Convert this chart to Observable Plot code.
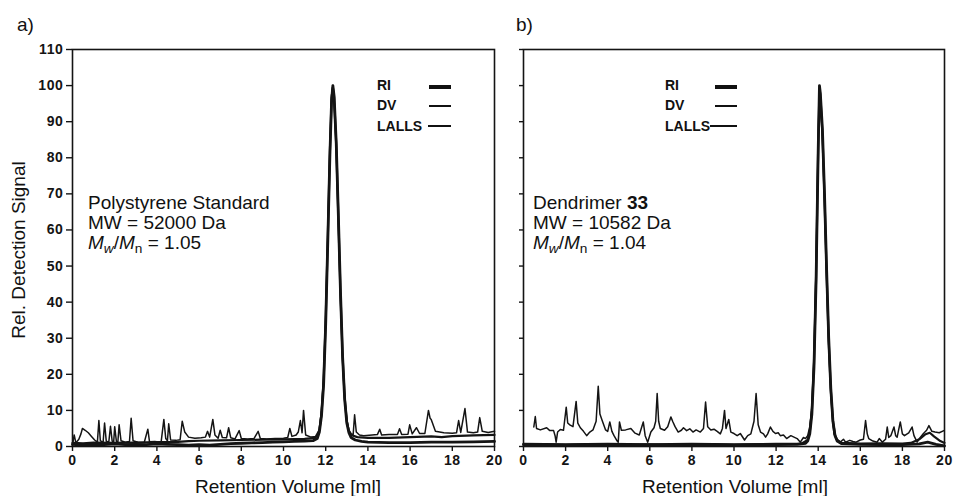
<!DOCTYPE html>
<html><head><meta charset="utf-8">
<script src="https://cdn.jsdelivr.net/npm/d3@7"></script>
<script src="https://cdn.jsdelivr.net/npm/@observablehq/plot@0.6"></script>
<style>
body{margin:0;background:#fff;font-family:"Liberation Sans",Arial,Helvetica,sans-serif;color:#111}
#wrap{position:relative;width:954px;height:496px;overflow:hidden}
.abs{position:absolute;white-space:nowrap;line-height:1;color:#111}
.big{font-size:19px}
.leg{font-size:14px;font-weight:bold}
.sw{position:absolute;background:#111}
.sub{font-size:0.72em;position:relative;top:0.28em}
svg{position:absolute;top:0}
</style></head><body><div id="wrap"></div>
<script>
// ---- tick values ----
const xTicks = [0,2,4,6,8,10,12,14,16,18,20];
const yTicks = [0,10,20,30,40,50,60,70,80,90,100,110];

// ---- panel a) Polystyrene standard: [retention volume, signal] ----
const a_RI = [[0,0.6],[0.5,0.4],[1,0.6],[1.5,0.5],[2,0.7],[2.5,0.5],[3,0.6],[3.5,0.5],[4,0.7],[4.5,0.6],[5,0.5],[5.5,0.4],[6,0.5],[6.5,0.4],[7,0.6],[7.5,0.8],[8,0.9],[8.5,1],[9,1.1],[9.5,1.2],[10,1.3],[10.5,1.4],[11,1.5],[11.4,1.6],[11.6,2.2],[11.7,4],[11.8,8.5],[11.9,17],[12.0,34],[12.1,57],[12.2,81],[12.28,96],[12.34,100],[12.4,97],[12.5,84],[12.6,64],[12.7,43],[12.8,25],[12.9,13],[13.0,6.5],[13.1,3.8],[13.2,2.5],[13.4,1.8],[13.7,1.4],[14,1.2],[15,1.1],[16,1.1],[17,1.2],[18,1.2],[19,1.3],[20,1.4]];
const a_DV = [[0,1],[0.5,0.9],[1,1.1],[2,1],[3,1.1],[4,1.2],[5,1.3],[5.5,1.5],[6,1.6],[7,1.7],[8,1.8],[9,1.9],[10,2],[11,2.1],[11.5,2.4],[11.7,4.5],[11.8,9],[11.9,18],[12.0,35],[12.1,58],[12.2,82],[12.28,96.5],[12.34,99.5],[12.4,96.5],[12.5,83.5],[12.6,63.5],[12.7,42.5],[12.8,25],[12.9,13.5],[13.0,7],[13.1,4.2],[13.2,3.2],[13.5,2.6],[14,2.4],[15,2.4],[16,2.6],[17,2.8],[17.5,2.6],[18,2.9],[19,3.1],[20,3.2]];
const a_LALLS = [[0,0.4],[0.08,3.2],[0.16,1],[0.3,2],[0.4,3.5],[0.47,5],[0.6,4.5],[0.75,3.8],[0.9,2.8],[1.05,1.8],[1.18,1.2],[1.25,7.2],[1.32,1.6],[1.45,1.1],[1.52,6.5],[1.6,1.5],[1.72,1.2],[1.8,5.6],[1.88,1.5],[1.95,1.1],[2.0,5.5],[2.08,1.4],[2.15,1.2],[2.21,6],[2.3,1.6],[2.5,1.2],[2.7,1.4],[2.78,7.8],[2.87,1.6],[3.1,1.2],[3.4,1.1],[3.57,4.8],[3.65,1.3],[3.9,1.4],[4.2,1.2],[4.33,7.5],[4.42,2.2],[4.5,1.6],[4.56,6.3],[4.65,1.8],[4.9,1.7],[5.1,1.9],[5.2,7],[5.32,4],[5.5,2.6],[5.8,2.3],[6.1,2.4],[6.3,2.6],[6.4,4.2],[6.5,2.6],[6.65,7.5],[6.75,3.2],[6.9,2.3],[7.0,4.5],[7.1,2.5],[7.3,2.4],[7.4,5.2],[7.5,2.4],[7.7,2.1],[7.9,4.4],[8.0,2.2],[8.3,2.1],[8.6,2.2],[8.8,4.2],[8.9,2.2],[9.2,2.1],[9.6,2.2],[10.0,2.3],[10.2,2.5],[10.3,5],[10.4,2.8],[10.6,3.2],[10.7,4],[10.8,7.2],[10.88,3.8],[10.95,10],[11.05,3.2],[11.3,2.6],[11.6,2.8],[11.7,5],[11.8,10],[11.9,19],[12.0,36],[12.1,59],[12.2,83],[12.28,97.5],[12.34,100],[12.4,96],[12.5,83],[12.6,62],[12.7,41],[12.8,24],[12.9,13],[13.0,7.5],[13.1,4.5],[13.2,3.6],[13.3,3.2],[13.37,8.8],[13.45,4],[13.6,3.2],[13.8,3],[14.2,3.2],[14.45,3.3],[14.56,4.8],[14.65,3.2],[15.0,3.3],[15.4,3.3],[15.5,4.9],[15.6,3.3],[15.9,3.4],[15.98,6],[16.1,3.5],[16.3,5.2],[16.45,3.6],[16.7,3.6],[16.87,10],[16.95,7.8],[17.0,7.5],[17.2,4.2],[17.6,3.8],[18.0,3.7],[18.2,3.8],[18.3,7.2],[18.4,3.9],[18.6,10.5],[18.72,4],[19.0,3.8],[19.2,4],[19.3,8],[19.42,4.2],[19.7,3.9],[20,4.2]];

// ---- panel b) Dendrimer 33 ----
const b_RI = [[0,0.5],[1,0.5],[2,0.4],[3,0.5],[4,0.5],[5,0.4],[6,0.5],[7,0.4],[8,0.5],[9,0.5],[10,0.4],[11,0.5],[12,0.5],[13,0.6],[13.4,0.9],[13.5,1.5],[13.6,3.5],[13.7,9],[13.8,22],[13.9,46],[14.0,82],[14.06,100],[14.1,98],[14.2,88],[14.3,70],[14.4,49],[14.5,30],[14.6,16],[14.7,7],[14.8,3],[14.9,1.5],[15.1,0.8],[16,0.6],[17,0.5],[18,0.5],[18.8,0.7],[19.2,1.2],[19.6,0.6],[20,0.2]];
const b_DV = [[0,0.7],[2,0.6],[4,0.7],[6,0.6],[8,0.7],[10,0.6],[12,0.7],[13.2,0.8],[13.5,1.8],[13.6,4],[13.7,10],[13.8,23],[13.9,47],[14.0,83],[14.06,99],[14.1,97.5],[14.2,87],[14.3,69],[14.4,48],[14.5,29],[14.6,15.5],[14.7,7],[14.8,3.2],[14.9,1.8],[15.1,1],[16,0.8],[17,0.9],[18,0.8],[18.4,1],[18.8,2],[19.1,3.4],[19.3,3.8],[19.5,2.8],[19.8,1.5],[20,1]];
const b_LALLS = [[0.49,5.4],[0.56,8.3],[0.62,5],[0.8,4.6],[1.1,5.2],[1.25,4.4],[1.43,4.4],[1.5,3],[1.55,1.2],[1.62,4],[1.75,4.7],[1.9,4.5],[2.03,10.9],[2.1,6.5],[2.2,6],[2.35,5.5],[2.5,12.5],[2.58,6.5],[2.7,5.2],[2.85,4.2],[3.0,3],[3.15,4],[3.3,4.6],[3.45,7],[3.55,16.7],[3.63,9],[3.75,7],[3.9,4.6],[4.0,4.2],[4.1,6.8],[4.2,4.2],[4.3,3],[4.45,1.5],[4.5,1.2],[4.56,6.8],[4.65,4.5],[4.85,4.6],[5.1,5],[5.3,3.7],[5.5,3.2],[5.69,6.8],[5.78,3],[5.9,1.2],[6.05,4],[6.2,5.2],[6.28,7],[6.35,14.7],[6.42,7],[6.5,5],[6.7,4.5],[6.85,5.5],[7.0,8.2],[7.1,6.8],[7.2,5.5],[7.35,4],[7.5,4.5],[7.6,5.2],[7.75,4.4],[7.9,4.9],[8.05,4],[8.2,4.6],[8.4,4],[8.55,5],[8.65,12.3],[8.75,5.5],[8.9,4.6],[9.05,4.8],[9.2,4.2],[9.35,3.5],[9.45,5],[9.55,10],[9.62,5],[9.75,7.5],[9.85,4],[10.0,3.6],[10.15,3],[10.3,3.6],[10.5,1.8],[10.65,3],[10.8,3.5],[10.95,7],[11.05,14.7],[11.15,6],[11.26,4],[11.4,3.5],[11.5,2.6],[11.6,3.5],[11.73,5.4],[11.85,4.2],[11.97,3.6],[12.1,3.8],[12.2,3],[12.35,3.2],[12.5,2.2],[12.7,3],[12.85,2.6],[13.0,2.2],[13.15,1.2],[13.3,2.5],[13.4,2.2],[13.5,3],[13.6,5.5],[13.7,11],[13.8,25],[13.9,50],[14.0,85],[14.05,98],[14.1,97],[14.2,86],[14.3,68],[14.4,47],[14.5,28],[14.6,15],[14.7,6.5],[14.75,3.5],[14.85,2.2],[15.05,1.2],[15.2,2],[15.3,1.2],[15.5,1.7],[15.65,1.4],[15.8,1.2],[16.0,1.8],[16.15,2],[16.25,7.2],[16.33,3.5],[16.4,2.2],[16.6,1.5],[16.8,1.2],[16.9,2.2],[17.05,1.2],[17.2,2],[17.28,5.4],[17.35,2.5],[17.45,3],[17.6,5.4],[17.68,3],[17.75,2.6],[17.9,6.8],[18.0,3.5],[18.1,3],[18.3,3.8],[18.46,5.4],[18.55,3],[18.7,1.2],[18.85,2.5],[19.0,3.6],[19.15,4.5],[19.26,5.8],[19.4,4.2],[19.55,4],[19.75,3.8],[19.97,4.4]];

const INK = "#141414";
const W = {RI: 2.8, DV: 2.2, LALLS: 1.5};

function panel({width, ml, mr, ri, dv, lalls, yLabels}) {
  const line = (d, w) => Plot.line(d, {x: d => d[0], y: d => d[1], stroke: INK, strokeWidth: w, strokeLinejoin: "round", strokeLinecap: "round"});
  return Plot.plot({
    width, height: 496,
    marginLeft: ml, marginRight: mr, marginTop: 49, marginBottom: 50,
    x: {domain: [0, 20]},
    y: {domain: [0, 110]},
    style: {fontFamily: '"Liberation Sans", Arial, sans-serif', fontSize: "14px", fontWeight: "bold", color: INK, background: "transparent", letterSpacing: "0.6px", overflow: "visible"},
    marks: [
      Plot.axisX(xTicks, {tickSize: 5, tickPadding: 4, label: null, stroke: INK, strokeWidth: 1.4}),
      Plot.axisY(yTicks, {tickSize: yLabels ? 6 : 4, tickPadding: 3, label: null, stroke: INK, strokeWidth: 1.4, tickFormat: yLabels ? (d => d) : (() => "")}),
      line(lalls, W.LALLS),
      line(dv, W.DV),
      line(ri, W.RI),
      Plot.frame({stroke: INK, strokeWidth: 1.6})
    ]
  });
}

const wrap = document.getElementById("wrap");
const pa = panel({width: 512, ml: 72, mr: 18, ri: a_RI, dv: a_DV, lalls: a_LALLS, yLabels: true});
pa.style.left = "0px";
wrap.appendChild(pa);
const pb = panel({width: 454, ml: 23, mr: 10, ri: b_RI, dv: b_DV, lalls: b_LALLS, yLabels: false});
pb.style.left = "500px";
wrap.appendChild(pb);

// ---- texts (HTML overlay) ----
function txt(html, left, baseline, cls, extra) {
  const d = document.createElement("div");
  d.className = "abs " + cls;
  d.innerHTML = html;
  const fs = cls.includes("leg") ? 14 : 19;
  d.style.left = left + "px";
  d.style.top = (baseline - 0.8465 * fs) + "px";
  if (extra) Object.assign(d.style, extra);
  wrap.appendChild(d);
  return d;
}
txt("a)", 17, 31, "big");
txt("b)", 516, 31, "big");

// y axis title
const yt = document.createElement("div");
yt.className = "abs big";
yt.textContent = "Rel. Detection Signal";
Object.assign(yt.style, {left: "18px", top: "250px", transform: "translate(-50%,-50%) rotate(-90deg)"});
wrap.appendChild(yt);

// x axis titles
txt("Retention Volume [ml]", 288, 493, "big", {transform: "translateX(-50%)"});
txt("Retention Volume [ml]", 735, 493, "big", {transform: "translateX(-50%)"});

// annotations
const mwmn = (v) => `<i>M</i><span class="sub"><i>w</i></span>/<i>M</i><span class="sub">n</span> = ${v}`;
txt("Polystyrene Standard", 88, 209, "big");
txt("MW = 52000 Da", 88, 229, "big");
txt(mwmn("1.05"), 88, 249, "big");
txt("Dendrimer <b>33</b>", 533, 209, "big");
txt("MW = 10582 Da", 533, 229, "big");
txt(mwmn("1.04"), 533, 249, "big");

// legends
const legendNames = ["RI", "DV", "LALLS"];
const legendRows = [90, 110, 131];
const swY = [87, 106, 126];
const swH = [3.4, 2.6, 1.3];
function legend(textX, swLeft, swRight) {
  legendNames.forEach((n, i) => {
    txt(n, textX, legendRows[i], "leg");
    const s = document.createElement("div");
    s.className = "sw";
    const l = swLeft[i];
    Object.assign(s.style, {left: l + "px", width: (swRight - l) + "px", top: (swY[i] - swH[i] / 2) + "px", height: swH[i] + "px"});
    wrap.appendChild(s);
  });
}
legend(377, [429, 429, 428], 451);
legend(665, [715, 715, 710], 737);
</script></body></html>
